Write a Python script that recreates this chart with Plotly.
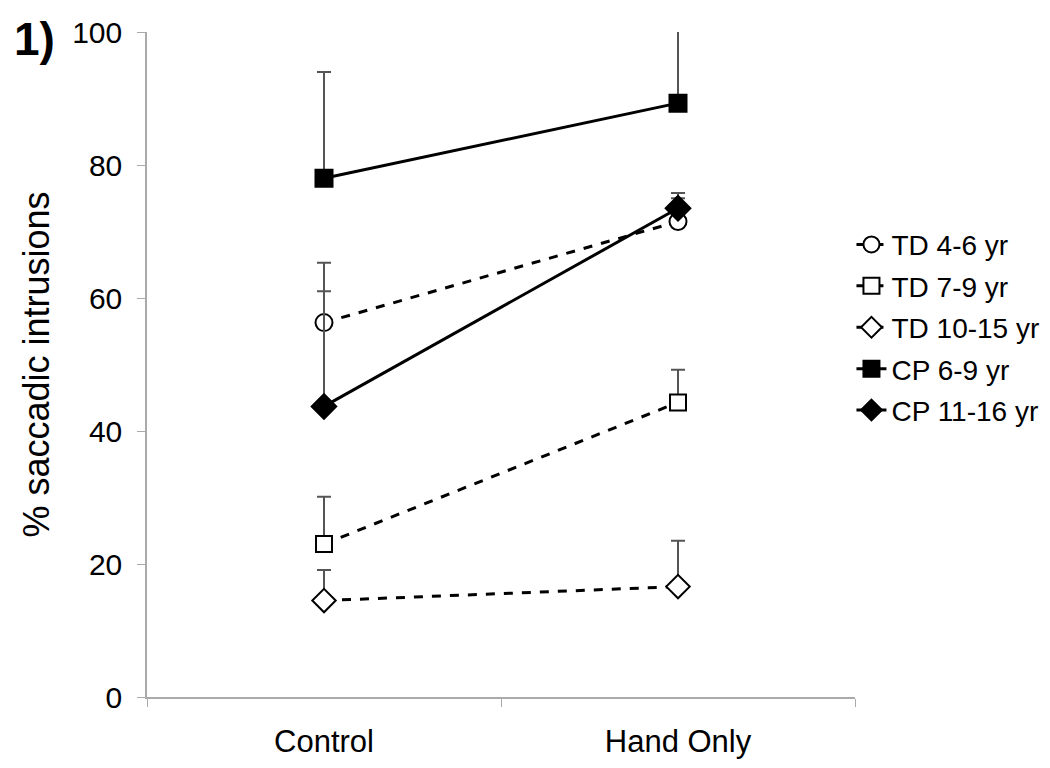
import plotly.graph_objects as go

conditions = ["Control", "Hand Only"]

groups = ["TD 4-6 yr", "TD 7-9 yr", "TD 10-15 yr", "CP 6-9 yr", "CP 11-16 yr"]
means = {
    "TD 4-6 yr": [56.3, 71.5],
    "TD 7-9 yr": [23.0, 44.3],
    "TD 10-15 yr": [14.5, 16.6],
    "CP 6-9 yr": [78.0, 89.3],
    "CP 11-16 yr": [43.7, 73.5],
}
errors = {
    "TD 4-6 yr": [9.0, 3.5],
    "TD 7-9 yr": [7.1, 4.9],
    "TD 10-15 yr": [4.6, 6.9],
    "CP 6-9 yr": [16.0, 13.0],
    "CP 11-16 yr": [17.3, 2.3],
}

# marker shape, fill, line style per group
styles = {
    "TD 4-6 yr": dict(symbol="circle", size=17, fill="white", dash="9px,9px"),
    "TD 7-9 yr": dict(symbol="square", size=16, fill="white", dash="9px,9px"),
    "TD 10-15 yr": dict(symbol="diamond", size=18, fill="white", dash="9px,9px"),
    "CP 6-9 yr": dict(symbol="square", size=17, fill="black", dash="solid"),
    "CP 11-16 yr": dict(symbol="diamond", size=19, fill="black", dash="solid"),
}

FONT = "Liberation Sans, Arial, sans-serif"
AXIS_GRAY = "#aaaaaa"

fig = go.Figure()
for g in groups:
    s = styles[g]
    fig.add_trace(
        go.Scatter(
            x=conditions,
            y=means[g],
            name=g,
            legendgroup=g,
            mode="lines+markers",
            line=dict(color="black", width=3, dash=s["dash"]),
            marker=dict(
                symbol=s["symbol"],
                size=s["size"],
                color=s["fill"],
                line=dict(color="black", width=2),
            ),
            error_y=dict(
                type="data",
                array=errors[g],
                arrayminus=[0, 0],
                symmetric=False,
                color="#555555",
                thickness=2,
                width=7,
            ),
        )
    )

fig.update_layout(
    width=1050,
    height=768,
    paper_bgcolor="white",
    plot_bgcolor="white",
    # page body adds an 8px offset, so margins are shifted to match
    margin=dict(l=139, r=203, t=24, b=79, autoexpand=False),
    font=dict(family=FONT, color="black"),
    showlegend=True,
    legend=dict(
        x=0.995,
        xanchor="left",
        y=0.556,
        yanchor="middle",
        font=dict(size=28, family=FONT),
        traceorder="grouped",
        tracegroupgap=2,
        bgcolor="rgba(0,0,0,0)",
    ),
    xaxis=dict(
        type="category",
        range=[-0.5, 1.5],
        tickson="boundaries",
        ticks="outside",
        ticklen=8,
        tickcolor=AXIS_GRAY,
        showline=True,
        linecolor=AXIS_GRAY,
        linewidth=1.5,
        showgrid=False,
        automargin=False,
        ticklabelstandoff=16,
        tickfont=dict(size=31, family=FONT),
    ),
    yaxis=dict(
        range=[0, 100],
        tickvals=[0, 20, 40, 60, 80, 100],
        ticks="outside",
        ticklen=8,
        tickcolor=AXIS_GRAY,
        showline=True,
        linecolor=AXIS_GRAY,
        linewidth=1.5,
        showgrid=False,
        zeroline=False,
        automargin=False,
        ticklabelstandoff=9,
        tickfont=dict(size=30, family=FONT),
        title=dict(text="% saccadic intrusions", font=dict(size=36, family=FONT), standoff=12),
    ),
    annotations=[
        dict(
            text="<b>1)</b>",
            xref="paper",
            yref="paper",
            x=-0.19,
            y=0.99,
            xanchor="left",
            yanchor="middle",
            showarrow=False,
            font=dict(size=46, family=FONT, color="black"),
        )
    ],
)

fig.write_html("out.html")
